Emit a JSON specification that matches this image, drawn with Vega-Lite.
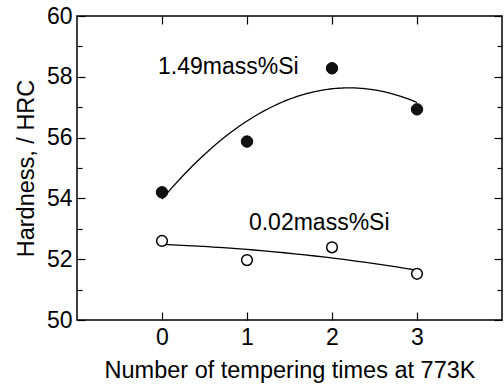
{
  "$schema": "https://vega.github.io/schema/vega-lite/v6.json",
  "width": 425,
  "height": 304,
  "autosize": "none",
  "padding": {"left": 77, "top": 16, "right": 2, "bottom": 65},
  "background": "white",
  "config": {
    "view": {"stroke": "black", "strokeWidth": 1.5},
    "font": "Liberation Sans",
    "axis": {
      "grid": false,
      "domain": false,
      "tickColor": "black",
      "labelColor": "black",
      "titleColor": "black",
      "labelFont": "Liberation Sans",
      "titleFont": "Liberation Sans",
      "labelFontSize": 23,
      "titleFontSize": 23.5,
      "titleFontWeight": "normal",
      "tickWidth": 1.2
    }
  },
  "datasets": {
    "pts": [
      {"times": 0, "hardness": 54.2, "series": "1.49mass%Si"},
      {"times": 1, "hardness": 55.87, "series": "1.49mass%Si"},
      {"times": 2, "hardness": 58.28, "series": "1.49mass%Si"},
      {"times": 3, "hardness": 56.93, "series": "1.49mass%Si"},
      {"times": 0, "hardness": 52.6, "series": "0.02mass%Si"},
      {"times": 1, "hardness": 51.97, "series": "0.02mass%Si"},
      {"times": 2, "hardness": 52.39, "series": "0.02mass%Si"},
      {"times": 3, "hardness": 51.52, "series": "0.02mass%Si"}
    ],
    "labels": [
      {"times": 0.78, "hardness": 58.31, "label": "1.49mass%Si"},
      {"times": 1.85, "hardness": 53.2, "label": "0.02mass%Si"}
    ]
  },
  "layer": [
    {
      "data": {"name": "pts"},
      "transform": [
        {"regression": "hardness", "on": "times", "groupby": ["series"], "method": "poly", "order": 2}
      ],
      "mark": {"type": "line", "color": "black", "strokeWidth": 1.3},
      "encoding": {
        "x": {
          "field": "times", "type": "quantitative",
          "scale": {"domain": [-1, 4], "nice": false, "zero": false},
          "axis": {"orient": "bottom", "values": [0, 1, 2, 3], "tickSize": -8, "labelPadding": 14, "title": "Number of tempering times at 773K", "titlePadding": 9}
        },
        "y": {
          "field": "hardness", "type": "quantitative",
          "scale": {"domain": [50, 60], "nice": false, "zero": false},
          "axis": {"orient": "left", "values": [50, 52, 54, 56, 58, 60], "tickSize": -8, "labelPadding": 13, "title": "Hardness, / HRC", "titlePadding": 8}
        },
        "detail": {"field": "series"}
      }
    },
    {
      "data": {"name": "pts"},
      "transform": [{"filter": "datum.series == '1.49mass%Si'"}],
      "mark": {"type": "point", "shape": "circle", "filled": true, "fill": "#111111", "stroke": "black", "strokeWidth": 1, "opacity": 1, "size": 130},
      "encoding": {
        "x": {"field": "times", "type": "quantitative", "axis": {"orient": "top", "values": [0, 1, 2, 3], "tickSize": -8, "labels": false, "title": null}},
        "y": {"field": "hardness", "type": "quantitative", "axis": {"orient": "right", "values": [50, 52, 54, 56, 58, 60], "tickSize": -8, "labels": false, "title": null}}
      }
    },
    {
      "data": {"name": "pts"},
      "transform": [{"filter": "datum.series == '0.02mass%Si'"}],
      "mark": {"type": "point", "shape": "circle", "filled": true, "fill": "white", "stroke": "black", "strokeWidth": 1.5, "opacity": 1, "size": 115},
      "encoding": {
        "x": {"field": "times", "type": "quantitative", "axis": null},
        "y": {"field": "hardness", "type": "quantitative", "axis": {"orient": "left", "values": [51, 53, 55, 57, 59], "tickSize": -5, "labels": false, "title": null}}
      }
    },
    {
      "data": {"name": "labels"},
      "mark": {"type": "text", "font": "Liberation Sans", "fontSize": 23, "align": "center", "baseline": "middle", "color": "black"},
      "encoding": {
        "x": {"field": "times", "type": "quantitative", "axis": null},
        "y": {"field": "hardness", "type": "quantitative", "axis": {"orient": "right", "values": [51, 53, 55, 57, 59], "tickSize": -5, "labels": false, "title": null}},
        "text": {"field": "label"}
      }
    }
  ],
  "resolve": {"axis": {"x": "independent", "y": "independent"}}
}
